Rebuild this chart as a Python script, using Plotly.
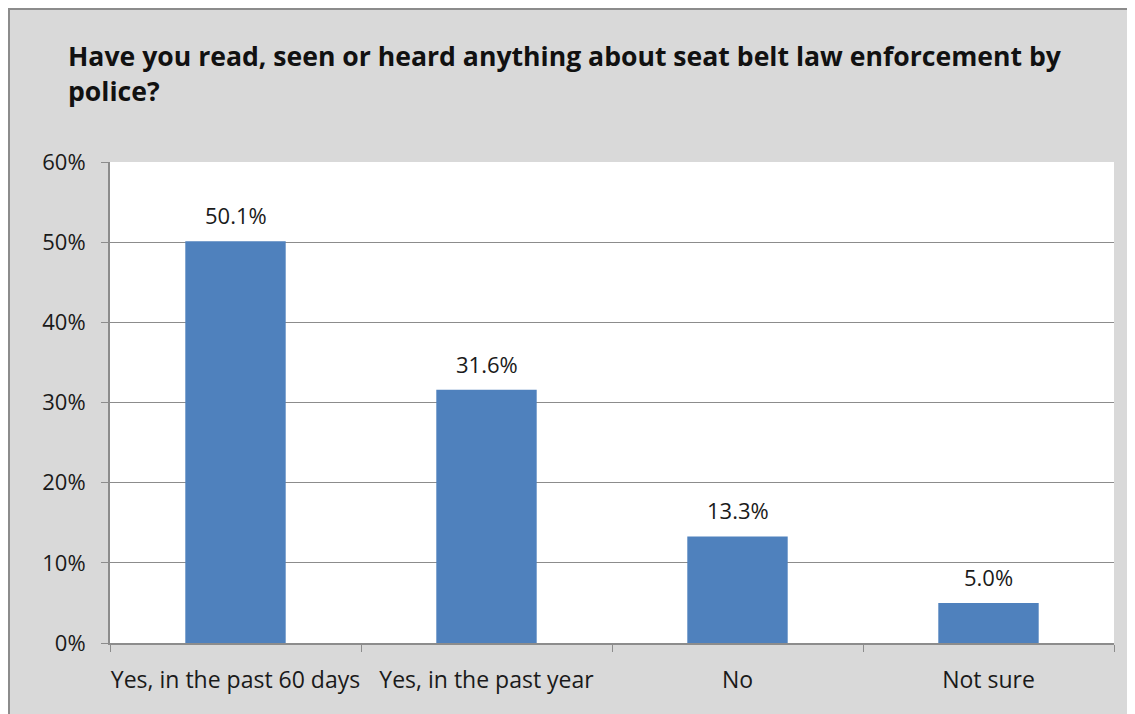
import plotly.graph_objects as go

categories = ["Yes, in the past 60 days", "Yes, in the past year", "No", "Not sure"]
values = [0.501, 0.316, 0.133, 0.050]
labels = ["50.1%", "31.6%", "13.3%", "5.0%"]
title_text = "Have you read, seen or heard anything about seat belt law enforcement by<br>police?"

W, H = 1135, 714
L, R, T, B = 102, 29, 154, 79
pw, ph = W - L - R, H - T - B

FONT = "Open Sans"

fig = go.Figure()
fig.add_trace(go.Bar(x=categories, y=values, marker=dict(color="#4f81bd", line=dict(width=0)),
                     hoverinfo="skip"))

for c, v, t in zip(categories, values, labels):
    fig.add_annotation(x=c, y=v, text=t, showarrow=False, yanchor="bottom", yshift=9,
                       font=dict(family=FONT, size=22, color="#1a1a1a"))

# chart border (left and top edges visible)
fig.add_shape(type="rect", xref="paper", yref="paper", layer="below",
              x0=(1 - L) / pw, x1=(W + 10 - L) / pw,
              y0=(H - B - (H + 10)) / ph, y1=(H - B - 1) / ph,
              fillcolor="rgba(0,0,0,0)", line=dict(color="#8c8c8c", width=2))

fig.update_layout(
    width=W, height=H,
    margin=dict(l=L, r=R, t=T, b=B, autoexpand=False),
    paper_bgcolor="#d9d9d9",
    plot_bgcolor="white",
    showlegend=False,
    bargap=0.6,
    title=dict(text="<b>" + title_text + "</b>", xref="container", yref="container",
               x=60 / W, xanchor="left", y=1 - 58 / H, yanchor="top",
               font=dict(family=FONT, size=26.6, color="#111111")),
    font=dict(family=FONT, size=22, color="#1a1a1a"),
)
fig.update_xaxes(showgrid=False, tickson="boundaries", ticks="outside", ticklen=7,
                 tickcolor="#8c8c8c", showline=True, linecolor="#8c8c8c", linewidth=2,
                 ticklabelstandoff=15, tickfont=dict(size=23), tickangle=0, automargin=False)
fig.update_yaxes(range=[0, 0.6], dtick=0.1, tickformat=".0%", showgrid=True,
                 gridcolor="#8c8c8c", gridwidth=1, ticks="outside", ticklen=7,
                 tickcolor="#8c8c8c", showline=True, linecolor="#8c8c8c", linewidth=2,
                 zeroline=False, ticklabelstandoff=11, automargin=False)

fig.write_html("out.html")
